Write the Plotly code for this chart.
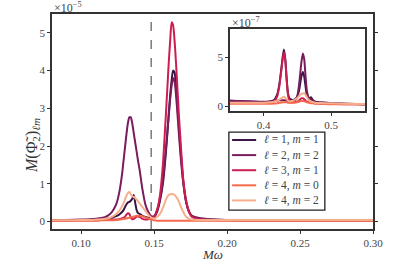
import plotly.graph_objects as go

# ---------------- main panel data (units of 1e-5) ----------------
x_main = [0.080, 0.090, 0.100, 0.106, 0.110, 0.114, 0.118, 0.121, 0.124, 0.126,
          0.128, 0.129, 0.130, 0.131, 0.132, 0.133, 0.134, 0.135, 0.136, 0.137,
          0.138, 0.139, 0.140, 0.142, 0.144, 0.146, 0.148, 0.150, 0.152, 0.154,
          0.156, 0.158, 0.159, 0.160, 0.161, 0.162, 0.163, 0.164, 0.165, 0.166,
          0.167, 0.168, 0.170, 0.172, 0.174, 0.176, 0.180, 0.185, 0.190, 0.200,
          0.220, 0.250, 0.280, 0.300]

y_l1m1 = [0.03, 0.03, 0.04, 0.04, 0.05, 0.06, 0.08, 0.10, 0.14, 0.18,
          0.25, 0.30, 0.38, 0.45, 0.50, 0.52, 0.55, 0.60, 0.70, 0.50,
          0.30, 0.22, 0.20, 0.15, 0.12, 0.10, 0.10, 0.12, 0.25, 0.55,
          1.00, 1.80, 2.30, 2.85, 3.35, 3.75, 4.00, 3.95, 3.60, 3.05,
          2.50, 1.95, 1.05, 0.50, 0.25, 0.13, 0.08, 0.06, 0.05, 0.04,
          0.03, 0.03, 0.03, 0.03]

y_l2m2 = [0.03, 0.04, 0.05, 0.06, 0.07, 0.09, 0.15, 0.25, 0.45, 0.75,
          1.25, 1.60, 1.95, 2.30, 2.60, 2.76, 2.76, 2.60, 2.35, 2.10,
          1.85, 1.60, 1.38, 0.85, 0.45, 0.25, 0.14, 0.14, 0.30, 0.60,
          1.10, 1.90, 2.35, 2.80, 3.25, 3.60, 3.80, 3.72, 3.35, 2.85,
          2.30, 1.80, 1.00, 0.50, 0.25, 0.15, 0.10, 0.07, 0.05, 0.04,
          0.03, 0.03, 0.03, 0.03]

y_l3m1 = [0.02, 0.02, 0.03, 0.03, 0.03, 0.04, 0.04, 0.05, 0.05, 0.06,
          0.08, 0.10, 0.12, 0.18, 0.22, 0.20, 0.10, 0.06, 0.07, 0.10,
          0.13, 0.13, 0.12, 0.07, 0.05, 0.06, 0.08, 0.12, 0.30, 0.70,
          1.50, 2.80, 3.50, 4.20, 4.80, 5.28, 5.20, 4.80, 4.20, 3.50,
          2.80, 2.20, 1.10, 0.55, 0.25, 0.12, 0.06, 0.05, 0.04, 0.03,
          0.03, 0.03, 0.03, 0.03]

y_l4m0 = [0.02, 0.02, 0.02, 0.02, 0.02, 0.03, 0.03, 0.03, 0.04, 0.05,
          0.06, 0.07, 0.07, 0.08, 0.09, 0.10, 0.11, 0.12, 0.13, 0.14,
          0.15, 0.15, 0.15, 0.14, 0.11, 0.08, 0.05, 0.03, 0.02, 0.02,
          0.02, 0.02, 0.02, 0.02, 0.02, 0.02, 0.02, 0.02, 0.02, 0.02,
          0.02, 0.02, 0.02, 0.02, 0.02, 0.02, 0.02, 0.02, 0.02, 0.02,
          0.02, 0.02, 0.02, 0.02]

y_l4m2 = [0.03, 0.03, 0.04, 0.04, 0.05, 0.06, 0.08, 0.12, 0.20, 0.28,
          0.40, 0.48, 0.58, 0.68, 0.75, 0.78, 0.72, 0.67, 0.65, 0.62,
          0.58, 0.53, 0.48, 0.38, 0.28, 0.18, 0.10, 0.08, 0.12, 0.20,
          0.36, 0.57, 0.65, 0.70, 0.72, 0.73, 0.72, 0.70, 0.66, 0.60,
          0.52, 0.42, 0.25, 0.12, 0.07, 0.05, 0.04, 0.04, 0.04, 0.04,
          0.04, 0.04, 0.04, 0.04]

# ---------------- inset data (units of 1e-7) ----------------
x_inset = [0.350, 0.370, 0.390, 0.400, 0.410, 0.415, 0.420, 0.423, 0.426, 0.428,
           0.430, 0.432, 0.434, 0.436, 0.438, 0.440, 0.443, 0.446, 0.449, 0.452,
           0.454, 0.456, 0.458, 0.460, 0.462, 0.464, 0.467, 0.470, 0.473, 0.476,
           0.480, 0.490, 0.500, 0.520, 0.550]

yi_l1m1 = [0.55, 0.50, 0.45, 0.40, 0.50, 0.60, 1.20, 2.20, 3.80, 5.00,
           5.80, 4.80, 2.80, 1.30, 0.80, 0.70, 0.60, 0.70, 0.90, 1.50,
           2.30, 3.10, 3.50, 3.00, 2.00, 1.10, 0.80, 0.90, 0.60, 0.45,
           0.40, 0.35, 0.30, 0.25, 0.20]

yi_l2m2 = [0.55, 0.50, 0.45, 0.45, 0.45, 0.50, 0.55, 0.60, 0.60, 0.60,
           0.60, 0.60, 0.55, 0.50, 0.50, 0.50, 0.55, 0.60, 0.80, 2.00,
           3.30, 4.60, 5.40, 4.80, 3.00, 1.50, 0.80, 0.70, 0.55, 0.45,
           0.40, 0.35, 0.30, 0.25, 0.20]

yi_l3m1 = [0.35, 0.35, 0.33, 0.32, 0.35, 0.45, 1.00, 2.00, 3.60, 4.80,
           5.50, 4.60, 2.60, 1.10, 0.60, 0.45, 0.40, 0.40, 0.45, 0.55,
           0.70, 0.80, 0.80, 0.70, 0.55, 0.45, 0.40, 0.35, 0.33, 0.30,
           0.28, 0.25, 0.22, 0.20, 0.18]

yi_l4m0 = [0.25, 0.25, 0.25, 0.25, 0.25, 0.27, 0.30, 0.33, 0.36, 0.38,
           0.40, 0.40, 0.38, 0.35, 0.33, 0.32, 0.33, 0.36, 0.40, 0.45,
           0.50, 0.52, 0.52, 0.50, 0.45, 0.40, 0.35, 0.30, 0.28, 0.25,
           0.25, 0.22, 0.20, 0.20, 0.18]

yi_l4m2 = [0.35, 0.35, 0.35, 0.35, 0.40, 0.45, 0.55, 0.65, 0.80, 0.90,
           0.95, 0.85, 0.70, 0.55, 0.50, 0.50, 0.55, 0.65, 0.80, 1.00,
           1.15, 1.25, 1.30, 1.30, 1.15, 0.90, 0.60, 0.45, 0.40, 0.35,
           0.32, 0.30, 0.28, 0.25, 0.22]

labels = ["<i>ℓ</i> = 1, <i>m</i> = 1", "<i>ℓ</i> = 2, <i>m</i> = 2",
          "<i>ℓ</i> = 3, <i>m</i> = 1", "<i>ℓ</i> = 4, <i>m</i> = 0",
          "<i>ℓ</i> = 4, <i>m</i> = 2"]
colors = ["#3b1447", "#781c5c", "#cc1d50", "#f26a4b", "#f8ae8a"]

main_marker = 0.148
inset_marker = 0.445

main_series = [y_l1m1, y_l2m2, y_l3m1, y_l4m0, y_l4m2]
inset_series = [yi_l1m1, yi_l2m2, yi_l3m1, yi_l4m0, yi_l4m2]

FONT = "Liberation Serif"
AX = "#333333"

fig = go.Figure()
for lab, col, ys in zip(labels, colors, main_series):
    fig.add_trace(go.Scatter(x=x_main, y=ys, mode="lines", name=lab, showlegend=False,
                             line=dict(color=col, width=2, shape="spline", smoothing=0.6),
                             xaxis="x", yaxis="y"))
for lab, col, ys in zip(labels, colors, inset_series):
    fig.add_trace(go.Scatter(x=x_inset, y=ys, mode="lines", name=lab, showlegend=False,
                             line=dict(color=col, width=2, shape="spline", smoothing=0.6),
                             xaxis="x2", yaxis="y2"))

fig.add_shape(type="line", xref="x", yref="y domain", x0=main_marker, x1=main_marker,
              y0=0, y1=1, line=dict(color="#808080", width=1.6, dash="dash"), layer="below")
fig.add_shape(type="line", xref="x2", yref="y2 domain", x0=inset_marker, x1=inset_marker,
              y0=0, y1=1, line=dict(color="#c9a083", width=1.6, dash="dash"), layer="below")

# ---- legend box (drawn manually for compact row spacing) ----
LEG_X0, LEG_X1, LEG_Y0, LEG_Y1 = 0.551, 0.850, 0.088, 0.451
ROW_TOP, ROW_STEP = 0.414, 0.0703
SAMPLE_X0, SAMPLE_X1, TEXT_X = 0.561, 0.636, 0.655
fig.add_shape(type="rect", xref="paper", yref="paper", x0=LEG_X0, x1=LEG_X1,
              y0=LEG_Y0, y1=LEG_Y1, line=dict(color="#222222", width=1.3),
              fillcolor="white", layer="above")
for i, (lab, col) in enumerate(zip(labels, colors)):
    yy = ROW_TOP - i * ROW_STEP
    fig.add_shape(type="line", xref="paper", yref="paper", x0=SAMPLE_X0, x1=SAMPLE_X1,
                  y0=yy, y1=yy, line=dict(color=col, width=2), layer="above")
    fig.add_annotation(text=lab, xref="paper", yref="paper", x=TEXT_X, y=yy,
                       xanchor="left", yanchor="middle", showarrow=False,
                       font=dict(family=FONT, size=11.5, color="#444444"))

axis_common = dict(showline=True, linecolor=AX, linewidth=1.8, ticks="outside",
                   ticklen=3, tickwidth=1.2, tickcolor=AX, showgrid=False, zeroline=False,
                   tickfont=dict(family=FONT, size=11, color="#444444"))

fig.update_layout(
    width=415, height=261,
    margin=dict(l=52, r=42, t=14, b=32),
    paper_bgcolor="white", plot_bgcolor="white",
    font=dict(family=FONT, color="#333333"),
    xaxis=dict(range=[0.08, 0.30], tickvals=[0.10, 0.15, 0.20, 0.25, 0.30],
               ticktext=["0.10", "0.15", "0.20", "0.25", "0.30"], mirror=True,
               domain=[0, 1], anchor="y", **axis_common),
    yaxis=dict(range=[-0.2, 5.5], tickvals=[0, 1, 2, 3, 4, 5], mirror="ticks",
               domain=[0, 1], anchor="x", **axis_common),
    xaxis2=dict(range=[0.35, 0.55], tickvals=[0.4, 0.5], ticktext=["0.4", "0.5"],
                mirror=True, domain=[0.5545, 0.975], anchor="y2", **axis_common),
    yaxis2=dict(range=[-0.5, 7.9], tickvals=[0, 5], mirror=True,
                domain=[0.549, 0.930], anchor="x2", **axis_common),
    showlegend=False,
)

fig.add_annotation(text="×10<sup>−5</sup>", xref="paper", yref="paper", x=0, y=1,
                   xanchor="left", yanchor="bottom", showarrow=False,
                   font=dict(family=FONT, size=12, color="#444444"), yshift=-3)
fig.add_annotation(text="×10<sup>−7</sup>", xref="x2 domain", yref="y2 domain", x=0, y=1,
                   xanchor="left", yanchor="bottom", showarrow=False,
                   font=dict(family=FONT, size=12, color="#444444"), yshift=-3)
fig.add_annotation(text="<i>Mω</i>", xref="paper", yref="paper", x=0.5, y=0,
                   xanchor="center", yanchor="middle", showarrow=False, yshift=-25,
                   font=dict(family=FONT, size=13, color="#333333"))
fig.add_annotation(text="<i>M</i>(Φ̃<sub>2</sub>)<sub><i>ℓm</i></sub>", xref="paper", yref="paper",
                   x=0, y=0.386, xanchor="center", yanchor="middle", showarrow=False,
                   textangle=-90, xshift=-20,
                   font=dict(family=FONT, size=16, color="#333333"))

fig.write_html("out.html", config={"displayModeBar": False},
               post_script="document.body.style.margin='0';document.body.style.padding='0';")
